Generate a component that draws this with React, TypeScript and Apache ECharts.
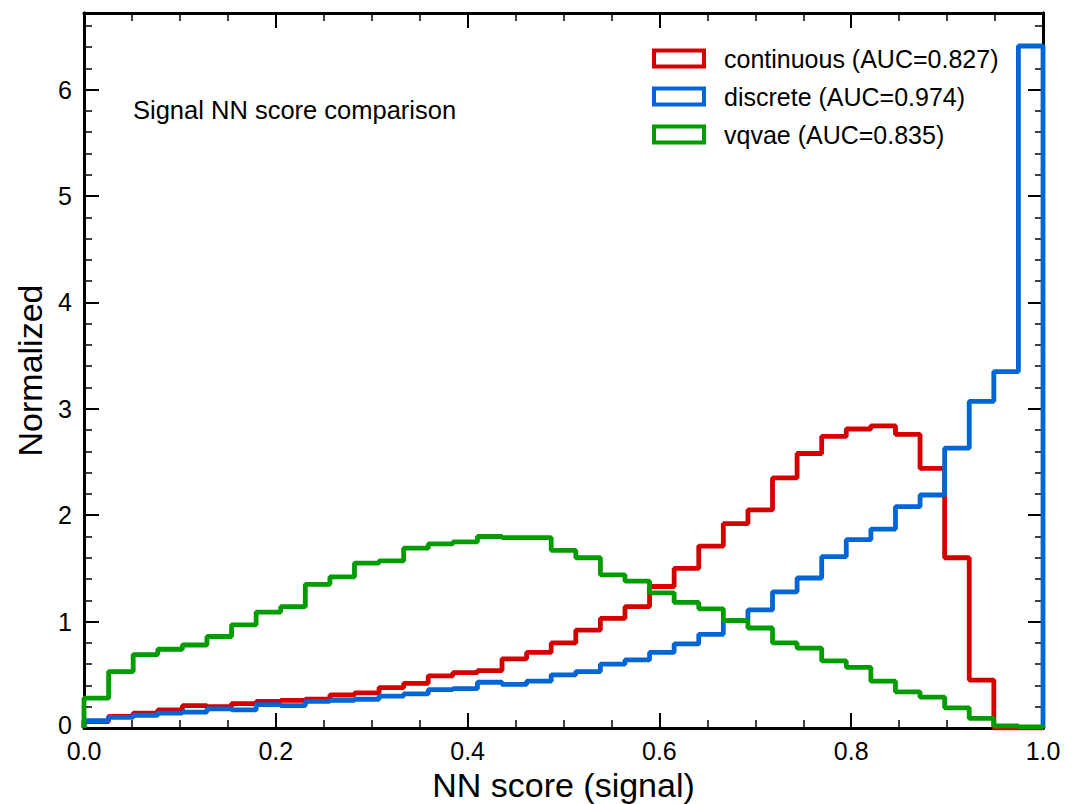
import React, { useEffect, useRef } from 'react';
import * as echarts from 'echarts';

// 39 equal-width bins spanning NN score 0..1
const NBINS = 39;
const seriesNames = ['continuous (AUC=0.827)', 'discrete (AUC=0.974)', 'vqvae (AUC=0.835)'];
const seriesColors = ['#d40000', '#0066d6', '#009c00'];

const continuous = [
  0.06, 0.11, 0.14, 0.17, 0.21, 0.20, 0.23, 0.25, 0.26, 0.27,
  0.31, 0.33, 0.38, 0.42, 0.49, 0.52, 0.54, 0.65, 0.71, 0.80,
  0.92, 1.03, 1.14, 1.33, 1.50, 1.71, 1.92, 2.05, 2.35, 2.58,
  2.74, 2.81, 2.84, 2.76, 2.44, 1.60, 0.45, 0.0, 0.0,
];
const discrete = [
  0.07, 0.10, 0.12, 0.14, 0.15, 0.18, 0.17, 0.22, 0.21, 0.25,
  0.26, 0.27, 0.30, 0.32, 0.36, 0.37, 0.43, 0.41, 0.44, 0.50,
  0.53, 0.60, 0.64, 0.71, 0.79, 0.88, 1.01, 1.11, 1.28, 1.41,
  1.61, 1.77, 1.87, 2.08, 2.19, 2.63, 3.07, 3.35, 6.41,
];
const vqvae = [
  0.28, 0.53, 0.69, 0.74, 0.78, 0.86, 0.97, 1.09, 1.14, 1.35,
  1.42, 1.55, 1.57, 1.69, 1.73, 1.75, 1.80, 1.79, 1.79, 1.67,
  1.60, 1.44, 1.38, 1.27, 1.18, 1.12, 1.01, 0.94, 0.80, 0.75,
  0.63, 0.57, 0.44, 0.34, 0.29, 0.19, 0.09, 0.02, 0.01,
];

const xMin = 0;
const xMax = 1;
const yMax = 6.72;
const annotation = 'Signal NN score comparison';
const xTitle = 'NN score (signal)';
const yTitle = 'Normalized';

const FONT = '"Liberation Sans", Arial, Helvetica, sans-serif';

function stepData(vals: number[]): number[][] {
  const pts: number[][] = [[xMin, 0]];
  vals.forEach((v, i) => pts.push([xMin + ((i + 1) * (xMax - xMin)) / NBINS, v]));
  pts.push([xMax, 0]);
  return pts;
}

export default function App() {
  const ref = useRef<HTMLDivElement>(null);
  useEffect(() => {
    document.body.style.margin = '0';
    if (!ref.current) return;
    const chart = echarts.init(ref.current, null, { renderer: 'svg' });
    const black = '#000';
    const axisLine = { show: true, onZero: false, lineStyle: { color: black, width: 3 } };
    const majorTick = { show: true, inside: true, length: 15, lineStyle: { color: black, width: 2 } };
    const minorTickAsMajor = { show: true, inside: true, length: 8, lineStyle: { color: black, width: 1.5 } };
    const minorTick = { show: true, splitNumber: 4, length: 8, lineStyle: { color: black, width: 1.5 } };

    const xBase = {
      type: 'value', min: xMin, max: xMax, interval: 0.2,
      axisLine, axisTick: majorTick, minorTick, splitLine: { show: false },
    };
    const yMajor = {
      type: 'value', min: 0, max: yMax, interval: 1,
      axisLine, axisTick: majorTick, splitLine: { show: false },
    };
    const yMinor = {
      type: 'value', min: 0, max: yMax, interval: 0.2,
      axisLine, axisTick: minorTickAsMajor, splitLine: { show: false },
      axisLabel: { show: false },
    };
    const series = [continuous, discrete, vqvae].map((vals, i) => ({
      name: seriesNames[i],
      type: 'line',
      step: 'start',
      symbol: 'none',
      data: stepData(vals),
      xAxisIndex: 0,
      yAxisIndex: 0,
      lineStyle: { color: seriesColors[i], width: 4.8 },
      itemStyle: { color: seriesColors[i] },
      z: 2 + i,
    }));

    chart.setOption({
      animation: false,
      backgroundColor: '#fff',
      textStyle: { fontFamily: FONT },
      grid: { left: 84, right: 46, top: 13, bottom: 76, containLabel: false, outerBoundsMode: 'none' },
      xAxis: [
        {
          ...xBase, position: 'bottom',
          axisLabel: { show: true, fontSize: 25, color: black, margin: 10, fontFamily: FONT,
            formatter: (v: number) => v.toFixed(1) },
          name: xTitle, nameLocation: 'middle', nameGap: 35,
          nameTextStyle: { fontSize: 34, color: black, fontFamily: FONT },
        },
        { ...xBase, position: 'top', axisLabel: { show: false } },
      ],
      yAxis: [
        {
          ...yMajor, position: 'left',
          axisLabel: { show: true, fontSize: 25, color: black, margin: 12, fontFamily: FONT,
            showMaxLabel: false,
            formatter: (v: number) => {
              if (Math.abs(v - Math.round(v)) > 1e-6) return '';
              const r = Math.round(v);
              return r === 0 ? '{z|0}' : String(r);
            },
            rich: { z: { fontSize: 25, color: black, fontFamily: FONT, padding: [0, 0, 6, 0] } },
          },
          name: yTitle, nameLocation: 'middle', nameGap: 31, nameRotate: 90,
          nameTextStyle: { fontSize: 34, color: black, fontFamily: FONT },
        },
        { ...yMinor, position: 'left' },
        { ...yMajor, position: 'right', axisLabel: { show: false } },
        { ...yMinor, position: 'right' },
      ],
      legend: {
        orient: 'vertical', left: 652, top: 46, padding: 0,
        itemWidth: 50, itemHeight: 16, itemGap: 13, icon: 'rect',
        textStyle: { fontSize: 25, color: black, fontFamily: FONT, lineHeight: 24, padding: [0, 0, 0, 15] },
        data: seriesNames.map((n, i) => ({
          name: n,
          icon: 'rect',
          itemStyle: { color: '#fff', borderColor: seriesColors[i], borderWidth: 4 },
        })),
      },
      graphic: [
        {
          type: 'text', left: 133, top: 97,
          style: { text: annotation, fontSize: 25.5, fill: black, fontFamily: FONT },
        },
      ],
      series,
    });
    return () => chart.dispose();
  }, []);
  return <div ref={ref} style={{ position: 'fixed', left: 0, top: 0, width: 1089, height: 804 }} />;
}
